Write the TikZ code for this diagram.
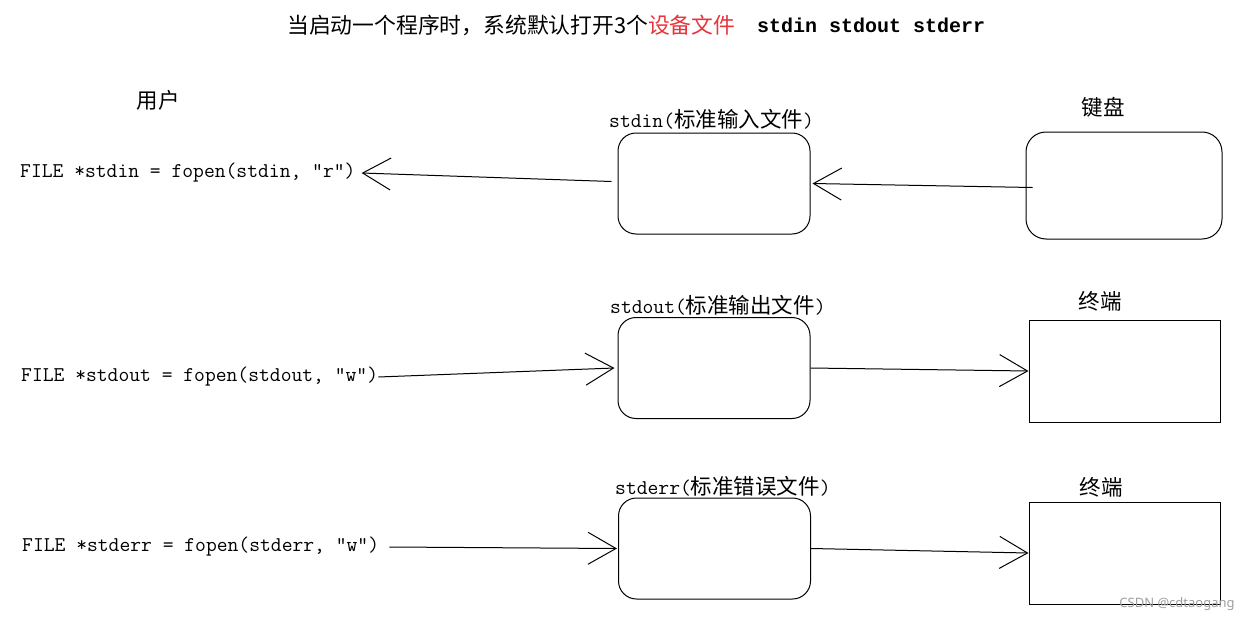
\documentclass[tikz,border=0pt]{standalone}
\usepackage{fontspec}
\newfontfamily\cjk{Noto Sans CJK SC}
\newfontfamily\monob{Liberation Mono}
\newfontfamily\wmfont{Noto Sans}
\usetikzlibrary{arrows.meta}
\definecolor{titlered}{RGB}{232,52,58}
\newcommand{\codefont}{\ttfamily\fontsize{21}{25}\selectfont}
\newcommand{\cjkfont}{\cjk\fontsize{21.5}{25}\selectfont}
\begin{document}
\begin{tikzpicture}[x=1pt,y=-1pt,
  rbox/.style={draw, line width=1pt, rounded corners=18pt, minimum width=192pt, minimum height=101pt, inner sep=0pt},
  sbox/.style={draw, line width=1pt, minimum width=191pt, minimum height=102pt, inner sep=0pt},
  lbl/.style={inner sep=0pt, anchor=west},
  arr/.style={line width=1pt, -{Straight Barb[length=28pt,width=32pt]}}]
\fill[white] (0,0) rectangle (1254,621);
\useasboundingbox (0,0) rectangle (1254,621);

% title
\node[lbl] (title) at (287,25) {\cjk\fontsize{21.8}{26}\selectfont 当启动一个程序时，系统默认打开3个\textcolor{titlered}{设备文件}};
\node[lbl] (titlecode) at (757,25) {\monob\bfseries\fontsize{20}{24}\selectfont stdin stdout stderr};

% user side
\node[inner sep=0pt] (user) at (158,100) {\cjkfont 用户};
\node[lbl] (f1) at (20,173) {\codefont FILE *stdin = fopen(stdin, "r")};
\node[lbl] (f2) at (21,377) {\codefont FILE *stdout = fopen(stdout, "w")};
\node[lbl] (f3) at (22,547) {\codefont FILE *stderr = fopen(stderr, "w")};

% file boxes
\node[rbox] (in) at (714,183.5) {};
\node[rbox] (out) at (714,368) {};
\node[rbox] (err) at (714.5,548.5) {};
\node[lbl] (inl) at (609,119) {\codefont stdin(\cjkfont 标准输入文件\codefont )};
\node[lbl] (outl) at (610,305) {\codefont stdout(\cjkfont 标准输出文件\codefont )};
\node[lbl] (errl) at (615,486) {\codefont stderr(\cjkfont 标准错误文件\codefont )};

% devices
\node[rbox, minimum width=196pt, minimum height=107pt, rounded corners=20pt] (kb) at (1124,185.5) {};
\node[sbox] (t1) at (1124.5,371) {};
\node[sbox] (t2) at (1124.5,553) {};
\node[inner sep=0pt] (kbl) at (1103,107) {\cjkfont 键盘};
\node[inner sep=0pt] (t1l) at (1100,301) {\cjkfont 终端};
\node[inner sep=0pt] (t2l) at (1101,487) {\cjkfont 终端};

% connectors
\draw[arr] ([xshift=-6pt,yshift=2pt]in.west) -- ([xshift=6pt,yshift=0pt]f1.east);
\draw[arr] ([xshift=7pt,yshift=-2pt]kb.west) -- ([xshift=2pt,yshift=0pt]in.east);
\draw[arr] (f2.east) -- ([xshift=-3pt]out.west);
\draw[arr] (out.east) -- (t1.west);
\draw[arr] ([xshift=10pt]f3.east) -- ([xshift=-1pt]err.west);
\draw[arr] (err.east) -- (t2.west);

% watermark
\node[inner sep=0pt, text=gray!75] (wm) at (1177,604) {\wmfont\fontsize{13}{15}\selectfont CSDN @cdtaogang};
\end{tikzpicture}
\end{document}
